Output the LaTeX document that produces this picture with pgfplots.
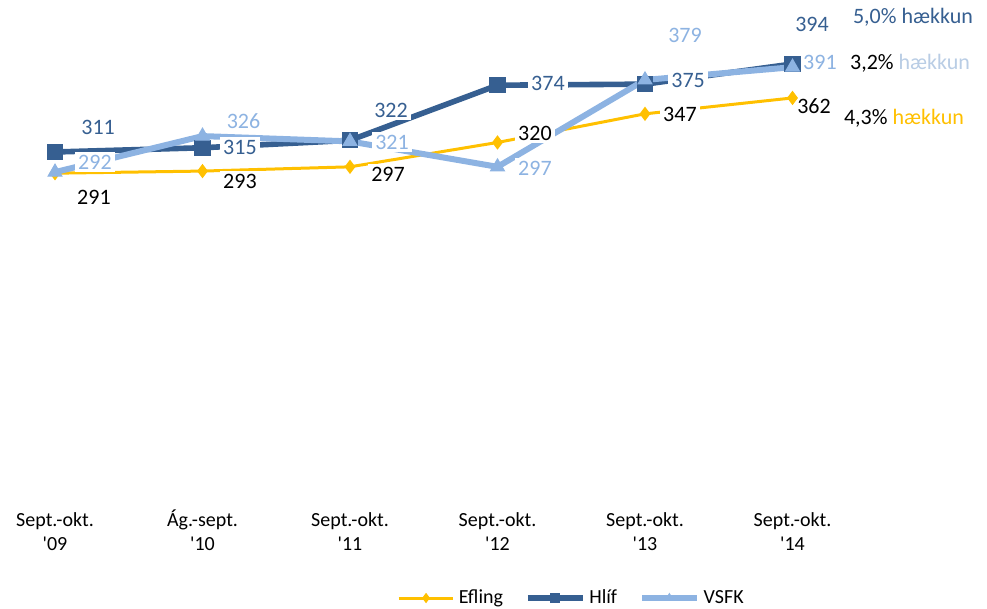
\documentclass[border=0pt]{standalone}
\usepackage{fontspec}
\setmainfont{Carlito}
\usepackage{pgfplots}
\pgfplotsset{compat=1.18}
\definecolor{efl}{HTML}{FFC000}
\definecolor{hlif}{HTML}{365F91}
\definecolor{vsfk}{HTML}{8DB3E2}
\definecolor{vsfklt}{HTML}{B9CDE5}
\begin{document}
\begin{tikzpicture}
\begin{axis}[
  scale only axis, width=493.5pt, height=304.5pt,
  xmin=-0.3729, xmax=6.3186, ymin=-120.1, ymax=454.4,
  clip=false,
  axis line style={draw=none}, major tick style={draw=none},
  ytick=\empty,
  xtick={0,1,2,3,4,5},
  xticklabels={{\vphantom{Ág}Sept.-okt.\\\textquotesingle09},{\vphantom{Ág}Ág.-sept.\\\textquotesingle10},{\vphantom{Ág}Sept.-okt.\\\textquotesingle11},{\vphantom{Ág}Sept.-okt.\\\textquotesingle12},{\vphantom{Ág}Sept.-okt.\\\textquotesingle13},{\vphantom{Ág}Sept.-okt.\\\textquotesingle14}},
  xticklabel style={align=center, font=\fontsize{10}{12}\selectfont, anchor=north, yshift=53pt},
  legend style={at={(0.58,0.018)}, anchor=center, draw=none, fill=none,
    font=\fontsize{10}{12}\selectfont, legend columns=3,
    /tikz/every even column/.append style={column sep=9pt}},
  legend image code/.code={\draw[#1, mark repeat=2, mark phase=2, mark size=2.2pt] plot coordinates {(0cm,0cm) (0.48cm,0cm) (0.96cm,0cm)};},
]
\addplot[efl, line width=1.5pt, mark=diamond*, mark size=3.2pt, mark options={fill=efl, line width=0.5pt}]
  coordinates {(0,291) (1,293) (2,297) (3,320) (4,347) (5,362)};
\addlegendentry{Efling}
\addplot[hlif, line width=2.8pt, mark=square*, mark size=3.8pt, mark options={fill=hlif, line width=0.5pt}]
  coordinates {(0,311) (1,315) (2,322) (3,374) (4,375) (5,394)};
\addlegendentry{Hlíf}
\addplot[vsfk, line width=3pt, mark=triangle*, mark size=4pt, mark options={fill=vsfk, line width=0.5pt}]
  coordinates {(0,292) (1,326) (2,321) (3,297) (4,379) (5,391)};
\addlegendentry{VSFK}

\begin{scope}[every node/.style={font=\fontsize{11}{13}\selectfont, fill=white, inner sep=1.5pt}]
% Hlíf
\node[text=hlif] at (axis cs:0.292,334.6) {311};
\node[text=hlif] at (axis cs:1.254,315.7) {315};
\node[text=hlif] at (axis cs:2.278,350.6) {322};
\node[text=hlif] at (axis cs:3.342,376.1) {374};
\node[text=hlif] at (axis cs:4.292,378.3) {375};
\node[text=hlif] at (axis cs:5.132,431.8) {394};
% VSFK
\node[text=vsfk] at (axis cs:0.271,301.6) {292};
\node[text=vsfk] at (axis cs:1.278,340.2) {326};
\node[text=vsfk] at (axis cs:2.285,320.4) {321};
\node[text=vsfk] at (axis cs:3.254,295.9) {297};
\node[text=vsfk] at (axis cs:4.271,421.4) {379};
\node[text=vsfk] at (axis cs:5.186,395.9) {391};
% Efling
\node[text=black] at (axis cs:0.264,268.5) {291};
\node[text=black] at (axis cs:1.254,283.6) {293};
\node[text=black] at (axis cs:2.258,290.2) {297};
\node[text=black] at (axis cs:3.254,328.9) {320};
\node[text=black] at (axis cs:4.237,346.8) {347};
\node[text=black] at (axis cs:5.146,354.4) {362};
% annotations
\node[text=hlif] at (axis cs:5.817,438.5) {5,0\% hækkun};
\node at (axis cs:5.797,395.0) {\textcolor{black}{3,2\%} \textcolor{vsfklt}{hækkun}};
\node at (axis cs:5.756,343.1) {\textcolor{black}{4,3\%} \textcolor{efl}{hækkun}};
\end{scope}
\end{axis}
\pgfresetboundingbox
\path (current axis.south west) rectangle (current axis.north east);
\end{tikzpicture}
\end{document}
